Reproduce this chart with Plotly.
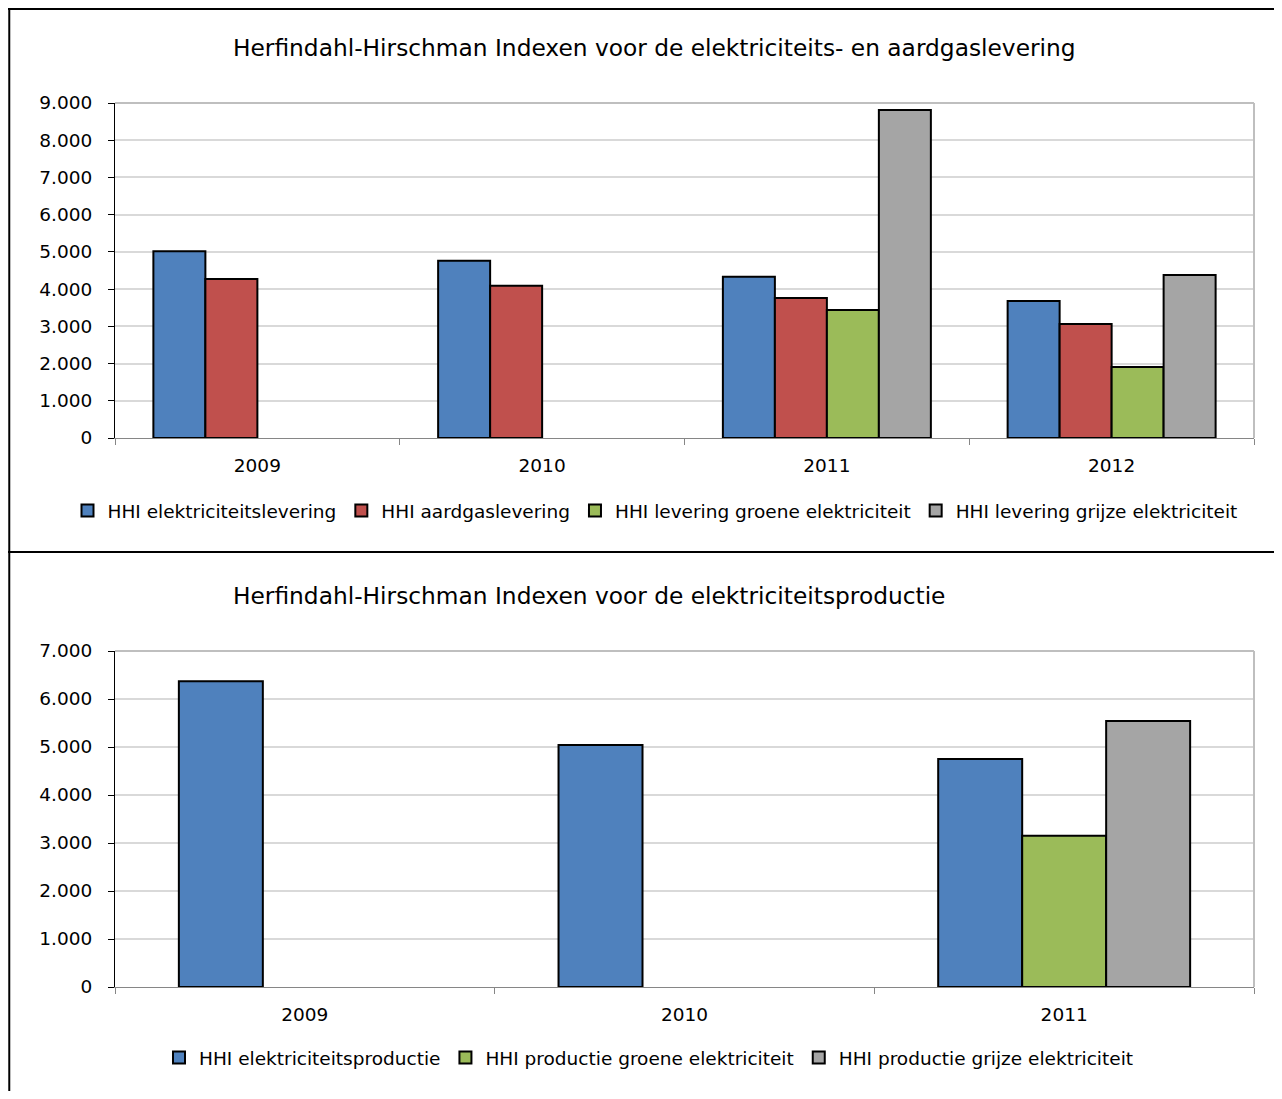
import plotly.graph_objects as go

years_top = ["2009", "2010", "2011", "2012"]
hhi_elek_lev = [5020, 4760, 4330, 3680]
hhi_gas_lev = [4270, 4090, 3760, 3060]
hhi_groen_lev = [None, None, 3440, 1910]
hhi_grijs_lev = [None, None, 8810, 4380]

years_bot = ["2009", "2010", "2011"]
hhi_elek_prod = [6370, 5040, 4750]
hhi_groen_prod = [None, None, 3150]
hhi_grijs_prod = [None, None, 5540]

title_top = "Herfindahl-Hirschman Indexen voor de elektriciteits- en aardgaslevering"
title_bot = "Herfindahl-Hirschman Indexen voor de elektriciteitsproductie"

names_top = ["HHI elektriciteitslevering", "HHI aardgaslevering",
             "HHI levering groene elektriciteit", "HHI levering grijze elektriciteit"]
names_bot = ["HHI elektriciteitsproductie", "HHI productie groene elektriciteit",
             "HHI productie grijze elektriciteit"]

BLUE, RED, GREEN, GREY = "#4F81BD", "#C0504D", "#9BBB59", "#A5A5A5"
FONT = "DejaVu Sans"
W, H = 1266, 1083

def px(x):
    return (x - 8) / W

def py(y):
    return 1 - (y - 8) / H

fig = go.Figure()

w_top = 0.1826
for i, (vals, name, col) in enumerate(zip(
        [hhi_elek_lev, hhi_gas_lev, hhi_groen_lev, hhi_grijs_lev], names_top,
        [BLUE, RED, GREEN, GREY])):
    fig.add_trace(go.Bar(x=years_top, y=vals, name=name, width=w_top,
                         offset=-2 * w_top + i * w_top,
                         marker=dict(color=col, line=dict(color="black", width=2)),
                         xaxis="x", yaxis="y", legend="legend"))

w_bot = 0.2212
for i, (vals, name, col) in enumerate(zip(
        [hhi_elek_prod, hhi_groen_prod, hhi_grijs_prod], names_bot,
        [BLUE, GREEN, GREY])):
    fig.add_trace(go.Bar(x=years_bot, y=vals, name=name, width=w_bot,
                         offset=-1.5 * w_bot + i * w_bot,
                         marker=dict(color=col, line=dict(color="black", width=2)),
                         xaxis="x2", yaxis="y2", legend="legend2"))

xdom = [px(115), px(1254)]
axis_common_x = dict(type="category", showgrid=False, showline=True, linecolor="#868686",
                     linewidth=1, ticks="outside", tickson="boundaries", ticklen=6,
                     tickcolor="#868686", tickfont=dict(family=FONT, size=18.5, color="black"),
                     ticklabelstandoff=11, fixedrange=True, automargin=False)
axis_common_y = dict(showgrid=True, gridcolor="#D9D9D9", gridwidth=1.5, showline=True,
                     linecolor="black", linewidth=1, ticks="outside", ticklen=6,
                     tickcolor="black", tickfont=dict(family=FONT, size=18.5, color="black"),
                     tickformat=",d", dtick=1000, ticklabelstandoff=12, zeroline=False,
                     automargin=False)

fig.update_layout(
    width=W, height=H, margin=dict(l=0, r=0, t=0, b=0, autoexpand=False), autosize=False,
    paper_bgcolor="white", plot_bgcolor="white", separators=",.",
    barmode="group", showlegend=True,
    font=dict(family=FONT, color="black"),
    xaxis=dict(domain=xdom, anchor="y", **axis_common_x),
    yaxis=dict(domain=[py(438), py(103)], anchor="x", range=[0, 9000], **axis_common_y),
    xaxis2=dict(domain=xdom, anchor="y2", **axis_common_x),
    yaxis2=dict(domain=[py(987), py(651)], anchor="x2", range=[0, 7000], **axis_common_y),
    legend=dict(orientation="h", x=px(655), xanchor="center", y=py(511), yanchor="middle",
                font=dict(family=FONT, size=18.5, color="black"), itemwidth=30,
                bgcolor="rgba(0,0,0,0)"),
    legend2=dict(orientation="h", x=px(649), xanchor="center", y=py(1058), yanchor="middle",
                 font=dict(family=FONT, size=18.5, color="black"), itemwidth=30,
                 bgcolor="rgba(0,0,0,0)"),
    annotations=[
        dict(text=title_top, x=px(231), y=py(48), xref="paper", yref="paper",
             xanchor="left", yanchor="middle", showarrow=False,
             font=dict(family=FONT, size=23.3, color="black")),
        dict(text=title_bot, x=px(231), y=py(595), xref="paper", yref="paper",
             xanchor="left", yanchor="middle", showarrow=False,
             font=dict(family=FONT, size=23.3, color="black")),
    ],
    shapes=[
        # frame lines
        dict(type="line", xref="paper", yref="paper", x0=0.001, x1=0.001, y0=0, y1=1,
             line=dict(color="black", width=2)),
        dict(type="line", xref="paper", yref="paper", x0=0, x1=1, y0=py(9), y1=py(9),
             line=dict(color="black", width=2)),
        dict(type="line", xref="paper", yref="paper", x0=0, x1=1, y0=py(552), y1=py(552),
             line=dict(color="black", width=2)),
        # plot area top/right borders
        dict(type="line", xref="x domain", yref="y domain", x0=0, x1=1, y0=1, y1=1,
             line=dict(color="#BFBFBF", width=2)),
        dict(type="line", xref="x domain", yref="y domain", x0=1, x1=1, y0=0, y1=1,
             line=dict(color="#BFBFBF", width=2)),
        dict(type="line", xref="x2 domain", yref="y2 domain", x0=0, x1=1, y0=1, y1=1,
             line=dict(color="#BFBFBF", width=2)),
        dict(type="line", xref="x2 domain", yref="y2 domain", x0=1, x1=1, y0=0, y1=1,
             line=dict(color="#BFBFBF", width=2)),
    ],
)

fig.write_html("out.html")
